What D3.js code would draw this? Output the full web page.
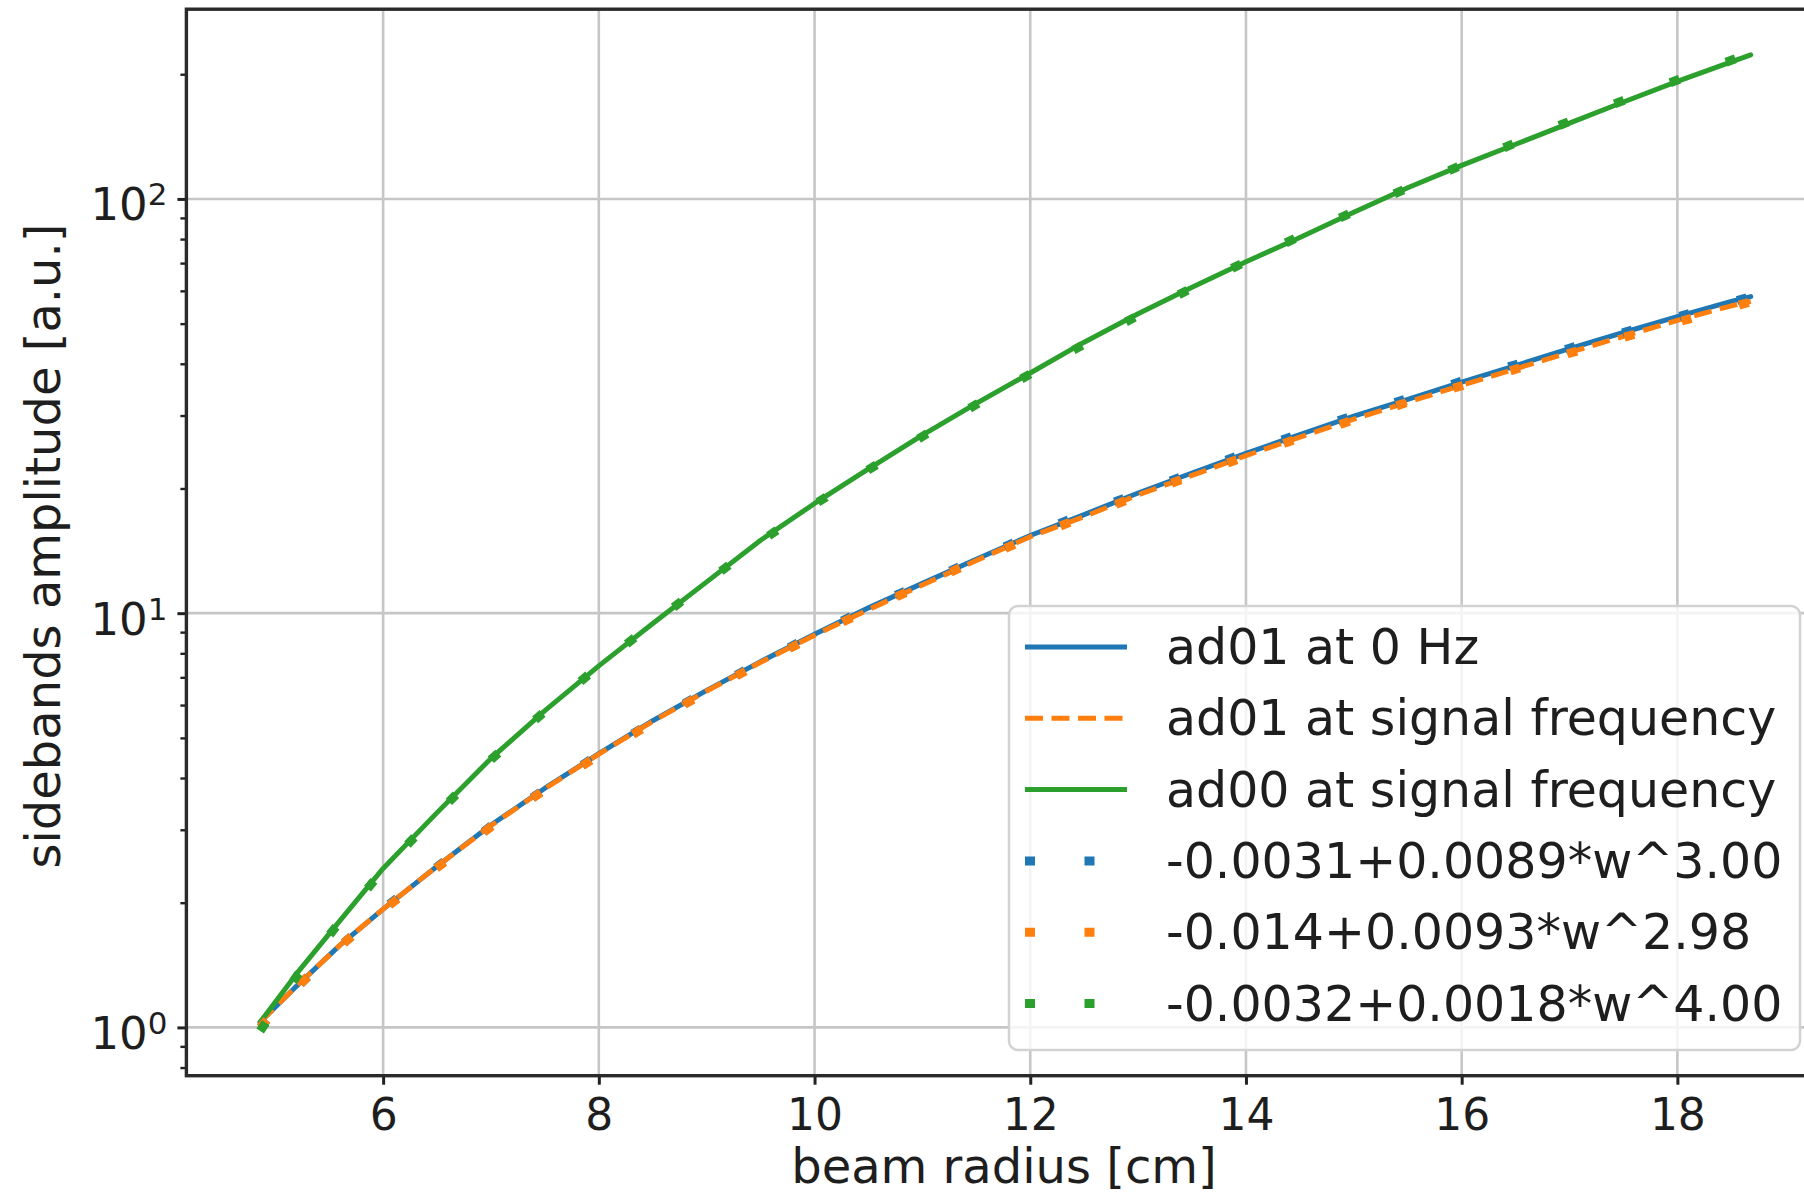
<!DOCTYPE html>
<html>
<head>
<meta charset="utf-8">
<script src="https://cdn.jsdelivr.net/npm/d3@7"></script>
<style>
    body { margin: 0; background: #ffffff; }
    svg { display: block; font-family: "DejaVu Sans", sans-serif; }
</style>
</head>
<body>
<div id="my_dataviz"></div>
<script>
// beam radius [cm] at which the curves were read
const radius = [4.86, 5.2, 5.6, 6.0, 6.5, 7.0, 7.5, 8.0, 8.5, 9.0, 9.5, 10.0, 10.5, 11.0, 11.5,
    12.0, 12.5, 13.0, 13.5, 14.0, 14.5, 15.0, 15.5, 16.0, 16.5, 17.0, 17.5, 18.0, 18.5, 18.68];

const ad01ZeroHz = [1.03, 1.26, 1.58, 1.93, 2.45, 3.08, 3.78, 4.58, 5.50, 6.51, 7.64, 8.89, 10.3, 11.8, 13.5,
    15.4, 17.3, 19.5, 21.8, 24.3, 27.0, 29.9, 32.8, 36.1, 39.6, 43.5, 47.6, 52.0, 56.6, 58.1];
const ad01Signal = [1.03, 1.26, 1.58, 1.93, 2.45, 3.07, 3.77, 4.57, 5.48, 6.49, 7.61, 8.85, 10.2, 11.7, 13.4,
    15.3, 17.1, 19.3, 21.5, 24.0, 26.6, 29.4, 32.3, 35.5, 38.9, 42.6, 46.6, 50.9, 55.2, 56.6];
const ad00Signal = [1.03, 1.35, 1.81, 2.42, 3.30, 4.46, 5.82, 7.46, 9.44, 11.9, 15.0, 18.4, 22.3, 26.9, 32.1,
    38.0, 45.1, 52.8, 61.2, 70.5, 80.7, 92.9, 106.4, 120.5, 135.5, 152.4, 171.4, 192.3, 214.3, 222.8];

// fitted curves, read where the dots sit
const fitAd01ZeroHz = [1.00, 1.25, 1.57, 1.93, 2.44, 3.06, 3.76, 4.56, 5.47, 6.49, 7.62, 8.88, 10.3, 11.8, 13.5,
    15.4, 17.4, 19.5, 21.8, 24.4, 27.1, 30.0, 33.0, 36.3, 39.8, 43.6, 47.6, 51.9, 56.4, 58.0];
const fitAd01Signal = [1.00, 1.25, 1.57, 1.92, 2.43, 3.05, 3.75, 4.54, 5.45, 6.46, 7.58, 8.82, 10.2, 11.7, 13.4,
    15.2, 17.1, 19.2, 21.5, 23.9, 26.5, 29.3, 32.3, 35.4, 38.8, 42.4, 46.3, 50.4, 54.8, 56.4];
const fitAd00Signal = [0.98, 1.33, 1.80, 2.40, 3.28, 4.43, 5.80, 7.45, 9.45, 11.9, 14.9, 18.3, 22.2, 26.7, 31.9,
    37.8, 44.6, 52.3, 61.0, 70.6, 81.3, 93.2, 106.2, 120.6, 136.5, 153.9, 172.9, 193.7, 216.2, 224.6];

const seriesNames = ["ad01 at 0 Hz", "ad01 at signal frequency", "ad00 at signal frequency",
    "-0.0031+0.0089*w^3.00", "-0.014+0.0093*w^2.98", "-0.0032+0.0018*w^4.00"];

const xTicks = [6, 8, 10, 12, 14, 16, 18];
const yTicks = [1, 10, 100];
const yMinorTicks = [0.8, 0.9, 2, 3, 4, 5, 6, 7, 8, 9, 20, 30, 40, 50, 60, 70, 80, 90, 200];

class SidebandChart {
    constructor() {
        this.init();
    }

    init() {
        let width = 1804;
        let height = 1195;
        // axes box; the right spine falls just outside the picture
        this.box = { left: 186.4, right: 1826, top: 9.2, bottom: 1075.7 };

        this.svg = d3.select("#my_dataviz")
            .append("svg")
            .attr("width", width)
            .attr("height", height);

        this.x = d3.scaleLinear()
            .domain([4.176, 19.378])
            .range([this.box.left, this.box.right]);
        this.y = d3.scaleLog()
            .domain([0.7646, 287.1])
            .range([this.box.bottom, this.box.top]);
    }

    drawGrid() {
        let x = this.x, y = this.y, box = this.box;
        let grid = this.svg.append("g")
            .attr("stroke", "#c6c6c6")
            .attr("stroke-width", 2.6);
        grid.selectAll(".vgrid")
            .data(xTicks)
            .join("line")
            .attr("class", "vgrid")
            .attr("x1", function(d) { return x(d); })
            .attr("x2", function(d) { return x(d); })
            .attr("y1", box.top)
            .attr("y2", box.bottom);
        grid.selectAll(".hgrid")
            .data(yTicks)
            .join("line")
            .attr("class", "hgrid")
            .attr("x1", box.left)
            .attr("x2", box.right)
            .attr("y1", function(d) { return y(d); })
            .attr("y2", function(d) { return y(d); });
    }

    drawAxes() {
        let box = this.box;

        let xAxis = this.svg.append("g")
            .attr("transform", "translate(0," + box.bottom + ")")
            .call(d3.axisBottom(this.x).tickValues(xTicks).tickSize(9).tickPadding(14).tickFormat(d3.format("d")));
        xAxis.select(".domain").remove();
        xAxis.attr("font-family", null).attr("font-size", null);
        xAxis.selectAll("line").attr("stroke", "#222").attr("stroke-width", 3);
        xAxis.selectAll("text").attr("font-size", 44).attr("fill", "#1e1e1e");

        let yMinor = this.svg.append("g")
            .attr("transform", "translate(" + box.left + ",0)")
            .call(d3.axisLeft(this.y).tickValues(yMinorTicks).tickSize(6).tickFormat(""));
        yMinor.select(".domain").remove();
        yMinor.selectAll("line").attr("stroke", "#222").attr("stroke-width", 2.4);

        let yAxis = this.svg.append("g")
            .attr("transform", "translate(" + box.left + ",0)")
            .call(d3.axisLeft(this.y).tickValues(yTicks).tickSize(9).tickPadding(10));
        yAxis.select(".domain").remove();
        yAxis.attr("font-family", null).attr("font-size", null);
        yAxis.selectAll("line").attr("stroke", "#222").attr("stroke-width", 3);
        yAxis.selectAll("text").each(function(d) {
            let t = d3.select(this).text("").attr("dy", 21).attr("fill", "#1e1e1e");
            t.append("tspan").attr("font-size", 45).text("10");
            t.append("tspan").attr("font-size", 31).attr("dy", -15).text(Math.round(Math.log10(d)));
        });

        this.svg.append("text")
            .attr("x", 1004)
            .attr("y", 1183)
            .attr("text-anchor", "middle")
            .attr("font-size", 48)
            .attr("fill", "#1e1e1e")
            .text("beam radius [cm]");

        this.svg.append("text")
            .attr("transform", "translate(60,546) rotate(-90)")
            .attr("text-anchor", "middle")
            .attr("font-size", 48)
            .attr("fill", "#1e1e1e")
            .text("sidebands amplitude [a.u.]");
    }

    drawSpines() {
        let box = this.box;
        this.svg.append("rect")
            .attr("x", box.left)
            .attr("y", box.top)
            .attr("width", box.right - box.left)
            .attr("height", box.bottom - box.top)
            .attr("fill", "none")
            .attr("stroke", "#2a2a2a")
            .attr("stroke-width", 3.4);
    }

    build(series) {
        let x = this.x, y = this.y;
        let line = d3.line()
            .x(function(d, i) { return x(radius[i]); })
            .y(function(d) { return y(d); });

        this.drawGrid();

        this.svg.append("g")
            .selectAll("path")
            .data(series)
            .join("path")
            .attr("d", function(d) { return line(d.values); })
            .attr("fill", "none")
            .attr("stroke", function(d) { return d.color; })
            .attr("stroke-width", function(d) { return d.width; })
            .attr("stroke-dasharray", function(d) { return d.dash; })
            .attr("stroke-linejoin", "round")
            .attr("stroke-linecap", function(d) { return d.dash ? "butt" : "round"; });

        this.drawAxes();
        this.drawSpines();
        this.drawLegend(series);
    }

    drawLegend(series) {
        let legend = this.svg.append("g");
        legend.append("rect")
            .attr("x", 1009)
            .attr("y", 606)
            .attr("width", 791)
            .attr("height", 444)
            .attr("rx", 9)
            .attr("fill", "#ffffff")
            .attr("fill-opacity", 0.8)
            .attr("stroke", "#d2d2d2")
            .attr("stroke-width", 2.5);

        let rows = legend.selectAll(".row")
            .data(series)
            .join("g")
            .attr("class", "row")
            .attr("transform", function(d, i) { return "translate(0," + (647 + i * 71.3) + ")"; });

        rows.append("line")
            .attr("x1", 1025)
            .attr("x2", 1127)
            .attr("stroke", function(d) { return d.color; })
            .attr("stroke-width", function(d) { return d.width; })
            .attr("stroke-dasharray", function(d) { return d.dash; });

        rows.append("text")
            .attr("x", 1166)
            .attr("y", 17)
            .attr("font-size", 49)
            .attr("fill", "#1e1e1e")
            .text(function(d) { return d.name; });
    }
}

let chart = new SidebandChart();
chart.build([
    { name: seriesNames[0], values: ad01ZeroHz, color: "#1f77b4", width: 5, dash: null },
    { name: seriesNames[1], values: ad01Signal, color: "#ff7f0e", width: 5, dash: "18,8.5" },
    { name: seriesNames[2], values: ad00Signal, color: "#2ca02c", width: 5, dash: null },
    { name: seriesNames[3], values: fitAd01ZeroHz, color: "#1f77b4", width: 9, dash: "10,49.5" },
    { name: seriesNames[4], values: fitAd01Signal, color: "#ff7f0e", width: 9, dash: "10,49.5" },
    { name: seriesNames[5], values: fitAd00Signal, color: "#2ca02c", width: 9, dash: "10,49.5" }
]);
</script>
</body>
</html>
